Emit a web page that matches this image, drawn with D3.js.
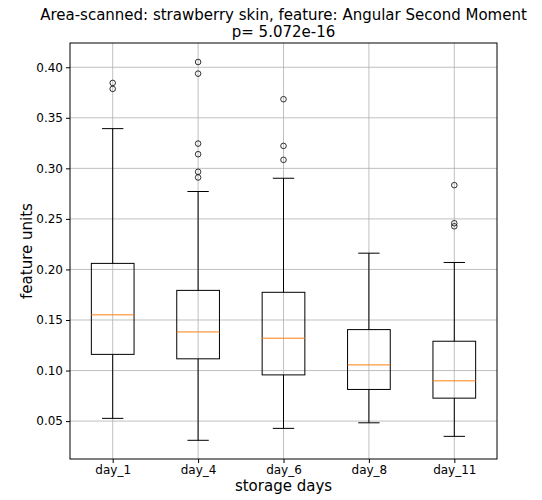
<!DOCTYPE html>
<html>
<head>
<meta charset="utf-8">
<script src="https://cdn.jsdelivr.net/npm/d3@7"></script>
<style>
  body { margin: 0; background: #fff; }
  text { font-family: "DejaVu Sans", sans-serif; }
</style>
</head>
<body>
<div id="chart"></div>
<script>
// Box plot: Angular Second Moment per storage day
const categories = ['day_1', 'day_4', 'day_6', 'day_8', 'day_11'];
const whiskerLow = [0.0527, 0.0310, 0.0428, 0.0483, 0.0349];
const q1 = [0.1160, 0.1116, 0.0957, 0.0813, 0.0727];
const medians = [0.1551, 0.1382, 0.1320, 0.1056, 0.0898];
const q3 = [0.2060, 0.1793, 0.1774, 0.1405, 0.1290];
const whiskerHigh = [0.3393, 0.2771, 0.2902, 0.2161, 0.2069];
const outliers = [
    [0.3845, 0.3786],
    [0.4052, 0.3937, 0.3245, 0.3140, 0.2966, 0.2910],
    [0.3684, 0.3222, 0.3084],
    [],
    [0.2834, 0.2457, 0.2427]
];
const yTicks = [0.05, 0.10, 0.15, 0.20, 0.25, 0.30, 0.35, 0.40];

const width = 542, height = 500;
const margin = { top: 43, right: 45, bottom: 41, left: 70 };

const svg = d3.select('#chart')
    .append('svg')
    .attr('width', width)
    .attr('height', height);

const x = d3.scaleLinear()
    .domain([0.5, categories.length + 0.5])
    .range([margin.left, width - margin.right]);

const y = d3.scaleLinear()
    .domain([0.0125, 0.424])
    .range([height - margin.bottom, margin.top]);

const gridColor = '#b0b0b0';

// Grid lines
svg.append('g').selectAll('line.hgrid')
    .data(yTicks)
    .enter().append('line')
    .attr('x1', margin.left).attr('x2', width - margin.right)
    .attr('y1', d => y(d)).attr('y2', d => y(d))
    .attr('stroke', gridColor).attr('stroke-width', 0.8);

svg.append('g').selectAll('line.vgrid')
    .data(categories)
    .enter().append('line')
    .attr('x1', (d, i) => x(i + 1)).attr('x2', (d, i) => x(i + 1))
    .attr('y1', margin.top).attr('y2', height - margin.bottom)
    .attr('stroke', gridColor).attr('stroke-width', 0.8);

// Boxes
const boxW = x(1.5) - x(1);      // 0.5 units
const capW = x(1.25) - x(1);     // 0.25 units
const boxes = svg.append('g').selectAll('g.box')
    .data(categories)
    .enter().append('g')
    .attr('class', 'box');

boxes.each(function(d, i) {
    const g = d3.select(this);
    const cx = x(i + 1);
    // whiskers
    g.append('line')
        .attr('x1', cx).attr('x2', cx)
        .attr('y1', y(whiskerLow[i])).attr('y2', y(q1[i]))
        .attr('stroke', '#000').attr('stroke-width', 1);
    g.append('line')
        .attr('x1', cx).attr('x2', cx)
        .attr('y1', y(q3[i])).attr('y2', y(whiskerHigh[i]))
        .attr('stroke', '#000').attr('stroke-width', 1);
    // caps
    [whiskerLow[i], whiskerHigh[i]].forEach(v => {
        g.append('line')
            .attr('x1', cx - capW / 2).attr('x2', cx + capW / 2)
            .attr('y1', y(v)).attr('y2', y(v))
            .attr('stroke', '#000').attr('stroke-width', 1);
    });
    // box
    g.append('rect')
        .attr('x', cx - boxW / 2)
        .attr('y', y(q3[i]))
        .attr('width', boxW)
        .attr('height', y(q1[i]) - y(q3[i]))
        .attr('fill', 'none')
        .attr('stroke', '#000').attr('stroke-width', 1);
    // median
    g.append('line')
        .attr('x1', cx - boxW / 2).attr('x2', cx + boxW / 2)
        .attr('y1', y(medians[i])).attr('y2', y(medians[i]))
        .attr('stroke', '#ff7f0e').attr('stroke-width', 1);
    // fliers
    g.selectAll('circle')
        .data(outliers[i])
        .enter().append('circle')
        .attr('cx', cx).attr('cy', v => y(v))
        .attr('r', 2.8)
        .attr('fill', 'none')
        .attr('stroke', '#000').attr('stroke-width', 0.8);
});

// Axes
const xAxis = d3.axisBottom(x)
    .tickValues(categories.map((d, i) => i + 1))
    .tickFormat((d, i) => categories[i])
    .tickSize(4).tickPadding(2);
const yAxis = d3.axisLeft(y)
    .tickValues(yTicks)
    .tickFormat(d3.format('.2f'))
    .tickSize(4).tickPadding(3);

const gx = svg.append('g')
    .attr('transform', `translate(0,${height - margin.bottom})`)
    .call(xAxis);
const gy = svg.append('g')
    .attr('transform', `translate(${margin.left},0)`)
    .call(yAxis);
[gx, gy].forEach(g => {
    g.select('.domain').remove();
    g.selectAll('text').attr('font-size', 12).attr('fill', '#000')
        .attr('font-family', '"DejaVu Sans", sans-serif');
    g.selectAll('line').attr('stroke', '#000');
});

// Frame
svg.append('rect')
    .attr('x', margin.left).attr('y', margin.top)
    .attr('width', width - margin.left - margin.right)
    .attr('height', height - margin.top - margin.bottom)
    .attr('fill', 'none')
    .attr('stroke', '#000').attr('stroke-width', 1);

// Titles and labels
const cxPlot = (margin.left + width - margin.right) / 2;
svg.append('text')
    .attr('x', cxPlot).attr('y', 20)
    .attr('text-anchor', 'middle')
    .attr('font-size', 15)
    .text('Area-scanned: strawberry skin, feature: Angular Second Moment');
svg.append('text')
    .attr('x', cxPlot).attr('y', 37)
    .attr('text-anchor', 'middle')
    .attr('font-size', 15)
    .text('p= 5.072e-16');

svg.append('text')
    .attr('x', cxPlot).attr('y', 491)
    .attr('text-anchor', 'middle')
    .attr('font-size', 15)
    .text('storage days');

svg.append('text')
    .attr('transform', `translate(32,${(margin.top + height - margin.bottom) / 2}) rotate(-90)`)
    .attr('text-anchor', 'middle')
    .attr('font-size', 15)
    .text('feature units');
</script>
</body>
</html>
